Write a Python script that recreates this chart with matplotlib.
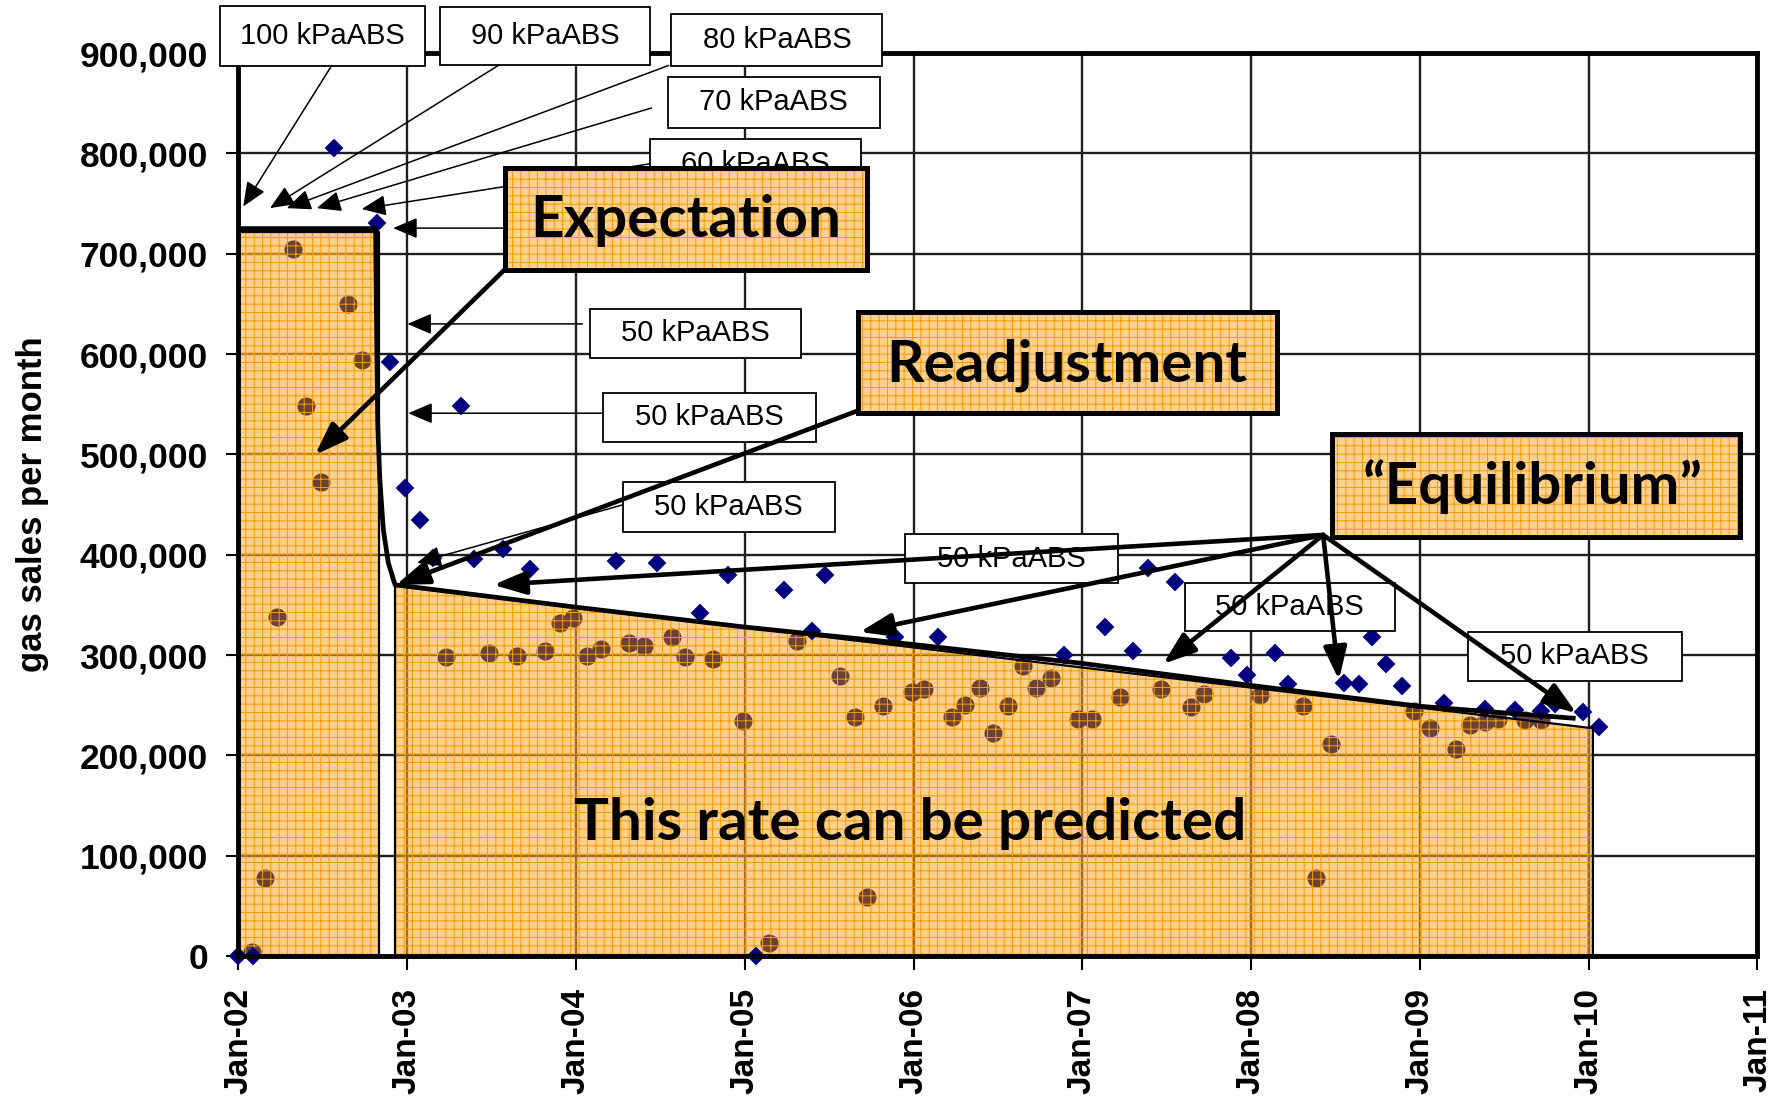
import matplotlib
matplotlib.use("Agg")
import matplotlib.pyplot as plt
from matplotlib.patches import Rectangle
from matplotlib.ticker import FuncFormatter

# x values are months counted from Jan-02
blue_months = [0.0, 1.0, 6.8, 9.85, 10.8, 11.84, 12.9, 13.85, 15.8, 16.76,
               18.78, 20.72, 26.84, 29.73, 32.8, 34.78, 36.8, 38.8, 40.8, 41.7,
               46.7, 49.7, 58.7, 61.6, 63.6, 64.7, 66.6, 70.6, 71.7, 73.7,
               74.6, 78.6, 79.7, 80.6, 81.6, 82.7, 85.7, 88.6, 90.75, 92.6,
               93.6, 95.6, 96.7]
blue_sales = [0, 0, 805000, 731000, 592000, 466000, 435000, 397000, 548000, 396000,
              406000, 386000, 394000, 392000, 342000, 380000, 0, 365000, 324000, 380000,
              318000, 318000, 300000, 328000, 304000, 387000, 373000, 297000, 280000, 302000,
              271000, 272000, 271000, 318000, 291000, 269000, 252000, 246000, 245000, 244000,
              251000, 243000, 228000]

brown_months = [0.94, 1.88, 2.75, 3.9, 4.8, 5.86, 7.8, 8.8, 14.75, 17.8,
                19.8, 21.77, 22.86, 23.8, 24.8, 25.75, 27.78, 28.85, 30.8, 31.74,
                33.75, 35.84, 37.7, 39.68, 42.76, 43.83, 44.7, 45.8, 47.86, 48.73,
                50.7, 51.65, 52.7, 53.66, 54.73, 55.8, 56.7, 57.76, 59.7, 60.7,
                62.7, 65.6, 67.7, 68.66, 72.6, 75.7, 76.6, 77.66, 83.6, 84.7,
                86.55, 87.55, 88.6, 89.56, 91.5, 92.6]
brown_sales = [4000, 77500, 338000, 704600, 548000, 472000, 650000, 594000, 298400, 302400,
               299400, 303800, 332300, 336700, 299400, 305800, 311800, 309400, 317700, 298400,
               296100, 234600, 13300, 314000, 279500, 238000, 58500, 249500, 262900, 266200,
               238600, 250200, 266900, 222000, 249500, 289400, 266900, 277500, 236300, 236300,
               258500, 266200, 247900, 260900, 260200, 249500, 77800, 211400, 244600, 227000,
               206100, 230300, 233600, 236300, 235300, 235300]

# black model line
model_months = [0, 9.75, 9.8, 9.9, 10.05, 10.3, 10.65, 11.13, 23.8, 35.9,
                47.0, 59.8, 71.8, 83.9, 94.9]
model_sales = [725000, 725000, 650000, 530000, 475000, 425000, 392000, 370000, 348000, 328000,
               312000, 292000, 270000, 249000, 237000]

# shaded areas
expect_months = [0, 10.0]
expect_top = [722000, 722000]
predict_months = [11.13, 96.3]
predict_top = [369000, 227000]

tick_months = list(range(0, 109, 12))
tick_labels = ["Jan-02", "Jan-03", "Jan-04", "Jan-05", "Jan-06",
               "Jan-07", "Jan-08", "Jan-09", "Jan-10", "Jan-11"]
y_ticks = list(range(0, 900001, 100000))

plt.rcParams["font.family"] = ["Liberation Sans", "DejaVu Sans"]
plt.rcParams["hatch.linewidth"] = 0.7

FILL_FACE = "#ffab33"
FILL_ALPHA = 0.56
BOX_FACE = "#ffd18f"
HATCH = "#f59b00"
BIG_FONT = ["Lato", "DejaVu Sans"]

fig = plt.figure(figsize=(17.81, 11.0), dpi=100)
ax = fig.add_axes([0.1339, 0.1309, 0.8529, 0.8209])
ax.set_xlim(0, 108)
ax.set_ylim(0, 900000)

ax.set_xticks(tick_months)
ax.set_xticklabels(tick_labels, rotation=90, fontsize=24, fontweight="bold")
ax.set_yticks(y_ticks)
ax.yaxis.set_major_formatter(FuncFormatter(lambda v, p: "{:,}".format(int(v))))
for lab in ax.get_yticklabels():
    lab.set_fontsize(25.5)
    lab.set_fontweight("bold")
ax.tick_params(axis="x", length=10, width=1.5, pad=13)
ax.tick_params(axis="y", length=9, width=1.5, pad=13)
ax.grid(True, color="#1e1e1e", lw=1.7)
ax.set_axisbelow(True)
for sp in ax.spines.values():
    sp.set_linewidth(3.5)
    sp.set_zorder(6)

fig.text(0.018, 0.5414, "gas sales per month", rotation=90, ha="center", va="center",
         fontsize=25, fontweight="bold")


def orange_area(xs, tops):
    ax.fill_between(xs, 0, tops, facecolor=FILL_FACE, alpha=FILL_ALPHA, lw=0, zorder=2)
    ax.fill_between(xs, 0, tops, facecolor="none", edgecolor=HATCH, hatch="++", lw=0, zorder=4)
    ax.plot([xs[0]] + list(xs) + [xs[-1]], [0] + list(tops) + [0],
            color="black", lw=1.6, zorder=6)


orange_area(expect_months, expect_top)
orange_area(predict_months, predict_top)

ax.plot(brown_months, brown_sales, "o", color="#6b4236", ms=13, mew=0, zorder=3)
ax.plot(blue_months, blue_sales, "D", color="#000080", ms=8.5, mew=1.4, zorder=5,
        clip_on=False)
ax.plot(model_months, model_sales, color="black", lw=3.4, zorder=6.5,
        solid_joinstyle="round")


def small_box(cx, cy, w, h, text):
    ax.add_patch(Rectangle((cx - w / 2, cy - h / 2), w, h, facecolor="white",
                           edgecolor="black", lw=1.3, zorder=7, clip_on=False))
    ax.text(cx, cy, text, ha="center", va="center", fontsize=21, zorder=7.2,
            clip_on=False)


def thin_arrow(start, tip):
    ax.annotate("", xy=tip, xytext=start, zorder=7.5, annotation_clip=False,
                arrowprops=dict(arrowstyle="-|>,head_length=0.75,head_width=0.32",
                                color="black", lw=1.1, shrinkA=0, shrinkB=0,
                                mutation_scale=20))


def thick_arrow(start, tip):
    ax.annotate("", xy=tip, xytext=start, zorder=10, annotation_clip=False,
                arrowprops=dict(arrowstyle="-|>,head_length=0.9,head_width=0.32",
                                color="black", lw=3.3, shrinkA=0, shrinkB=0,
                                mutation_scale=22))


def big_box(cx, cy, w, h, text, base_y, tx=None):
    ax.add_patch(Rectangle((cx - w / 2, cy - h / 2), w, h, facecolor=BOX_FACE,
                           edgecolor=HATCH, hatch="++", lw=0, zorder=9, clip_on=False))
    ax.add_patch(Rectangle((cx - w / 2, cy - h / 2), w, h, facecolor="none",
                           edgecolor="black", lw=3.6, zorder=9.2, clip_on=False))
    ax.text(cx if tx is None else tx, base_y, text, ha="center", va="baseline",
            fontsize=42, fontweight="bold", family=BIG_FONT, zorder=9.4)


# pressure labels
small_box(5.97, 917000, 14.6, 59000, "100 kPaABS")
small_box(21.79, 917000, 14.9, 58000, "90 kPaABS")
small_box(38.28, 913000, 15.0, 51000, "80 kPaABS")
small_box(38.06, 851000, 15.1, 51000, "70 kPaABS")
small_box(36.75, 789000, 15.0, 50000, "60 kPaABS")
small_box(32.49, 620600, 15.0, 49000, "50 kPaABS")
small_box(33.48, 536900, 15.1, 49000, "50 kPaABS")
small_box(34.86, 447700, 15.1, 50000, "50 kPaABS")
small_box(54.95, 396000, 15.1, 49000, "50 kPaABS")
small_box(74.75, 347700, 14.9, 48500, "50 kPaABS")
small_box(95.01, 298600, 15.2, 48500, "50 kPaABS")

thin_arrow((6.63, 887600), (0.34, 747000))
thin_arrow((18.55, 888300), (2.24, 745400))
thin_arrow((30.58, 887600), (3.43, 745400))
thin_arrow((29.36, 845200), (5.56, 745400))
thin_arrow((29.25, 789600), (8.76, 744500))
thin_arrow((29.25, 725500), (11.0, 725500))
thin_arrow((24.46, 630000), (12.01, 630000))
thin_arrow((25.91, 541000), (12.07, 541000))
thin_arrow((27.3, 449600), (12.69, 391800))

big_box(31.82, 734800, 25.67, 101700, "Expectation", 716500)
big_box(58.92, 591700, 29.8, 100700, "Readjustment", 572600)
big_box(92.24, 469100, 29.0, 102700, "\u201cEquilibrium\u201d", 450600, tx=92.0)

ax.text(47.74, 115700, "This rate can be predicted", ha="center", va="baseline",
        fontsize=42, fontweight="bold", family=BIG_FONT, zorder=9.4)

thick_arrow((18.91, 683900), (5.44, 499500))
thick_arrow((44.01, 543400), (11.2, 369900))
eq_origin = (77.12, 419700)
for tip in [(18.11, 369900), (44.18, 323000), (65.74, 291100),
            (78.24, 275200), (95.13, 242000)]:
    thick_arrow(eq_origin, tip)

fig.savefig("out.png", dpi=100)
